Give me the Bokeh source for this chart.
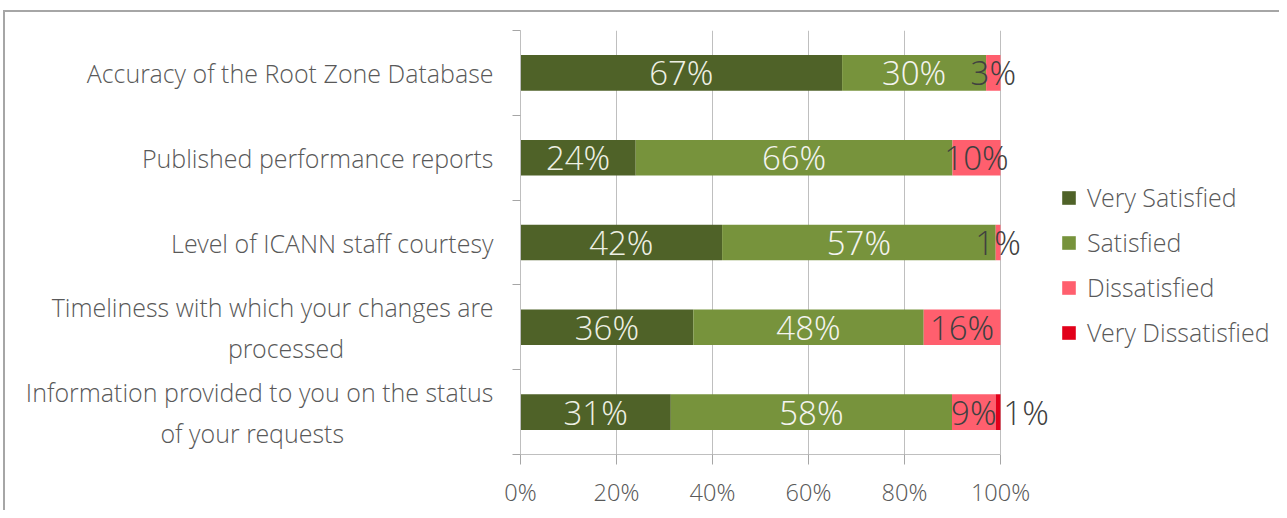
from bokeh.plotting import figure
from bokeh.models import ColumnDataSource, Range1d, FixedTicker, Legend, LegendItem, NumeralTickFormatter
from bokeh.core.properties import value
from bokeh.embed import file_html
from bokeh.resources import INLINE

NB = "\u00a0"
categories = [
    "Accuracy of the Root Zone Database",
    "Published performance reports",
    "Level of ICANN staff courtesy",
    "Timeliness with which your changes are\nprocessed",
    "Information provided to you on the status\nof your requests",
]
# trailing non-breaking spaces centre the second line under the first (display only)
pads = [0, 0, 0, 23, 23]
series = ["Very Satisfied", "Satisfied", "Dissatisfied", "Very Dissatisfied"]
very_satisfied = [67, 24, 42, 36, 31]
satisfied = [30, 66, 57, 48, 58]
dissatisfied = [3, 10, 1, 16, 9]
very_dissatisfied = [0, 0, 0, 0, 1]
colors = ["#4F6228", "#77933C", "#FF5F6E", "#E2001A"]
label_colors = ["#EEF0E4", "#F4F4F0", "#404040", "#404040"]
x_ticks = [0, 0.2, 0.4, 0.6, 0.8, 1.0]

FONT = "Open Sans Light"
values = [very_satisfied, satisfied, dissatisfied, very_dissatisfied]
n = len(categories)
ypos = [n - 1 - i + 0.5 for i in range(n)]
totals = [sum(v[i] for v in values) for i in range(n)]
fracs = {s: [v[i] / totals[i] for i in range(n)] for s, v in zip(series, values)}

src = ColumnDataSource(dict(y=ypos, **fracs))

W, H = 1279, 510
LEFT, TOP, BOTTOM = 520, 30, 52
frame_w = W - LEFT
p = figure(width=W, height=H, output_backend="svg", toolbar_location=None,
           x_range=Range1d(0, frame_w / 480), y_range=Range1d(0, n),
           min_border_left=LEFT, min_border_top=TOP, min_border_bottom=BOTTOM,
           min_border_right=0)
p.outline_line_color = None
p.background_fill_color = "white"
p.border_fill_color = None
p.styles = {"background": "linear-gradient(#A6A6A6,#A6A6A6) 3px 10px / 2px 100% no-repeat, "
                          "linear-gradient(#A6A6A6,#A6A6A6) 3px 10px / 100% 2px no-repeat, #ffffff"}

rs = p.hbar_stack(series, y="y", height=0.42, color=colors, line_color=None, source=src)

lx, ly, lt, lc, lo = [], [], [], [], []
for i in range(n):
    cum = 0.0
    for k, s in enumerate(series):
        f = fracs[s][i]
        if values[k][i] > 0:
            lx.append(cum + f / 2)
            ly.append(ypos[i])
            lt.append(f"{values[k][i]}%")
            lc.append(label_colors[k])
            lo.append(28 if k == 3 else 0)
        cum += f
lsrc = ColumnDataSource(dict(x=lx, y=ly, t=lt, c=lc, o=lo))
p.text(x="x", y="y", text="t", text_color="c", x_offset="o", source=lsrc,
       text_align="center", text_baseline="middle",
       text_font=value(FONT), text_font_size="33px")

xa = p.xaxis[0]
xa.ticker = FixedTicker(ticks=x_ticks)
xa.formatter = NumeralTickFormatter(format="0%")
xa.bounds = (0, 1)
xa.axis_line_color = "#BFBFBF"
xa.major_tick_line_color = "#A6A6A6"
xa.major_tick_in = 0
xa.major_tick_out = 10
xa.minor_tick_line_color = None
xa.major_label_text_font = FONT
xa.major_label_text_font_size = "23.5px"
xa.major_label_text_color = "#595959"
xa.major_label_standoff = 11

ya = p.yaxis[0]
ya.ticker = FixedTicker(ticks=ypos, minor_ticks=list(range(n + 1)))
ya.major_label_overrides = {y: c + NB * k for y, c, k in zip(ypos, categories, pads)}
ya.axis_line_color = "#BFBFBF"
ya.major_tick_line_color = None
ya.minor_tick_line_color = "#A6A6A6"
ya.minor_tick_in = 0
ya.minor_tick_out = 8
ya.major_label_text_font = FONT
ya.major_label_text_font_size = "25px"
ya.major_label_text_color = "#595959"
ya.major_label_standoff = 19

p.xgrid.ticker = FixedTicker(ticks=x_ticks)
p.xgrid.bounds = (0, 1)
p.xgrid.grid_line_color = "#BFBFBF"
p.ygrid.grid_line_color = None

legend = Legend(items=[LegendItem(label=s, renderers=[r]) for s, r in zip(series, rs)],
                location=(540, 105), padding=0, margin=0, spacing=11,
                glyph_width=17, glyph_height=17, label_standoff=10,
                label_text_font=FONT, label_text_font_size="25px",
                label_text_color="#595959", border_line_color=None,
                background_fill_alpha=0)
p.add_layout(legend)

open("out.html", "w").write(file_html(p, INLINE))
